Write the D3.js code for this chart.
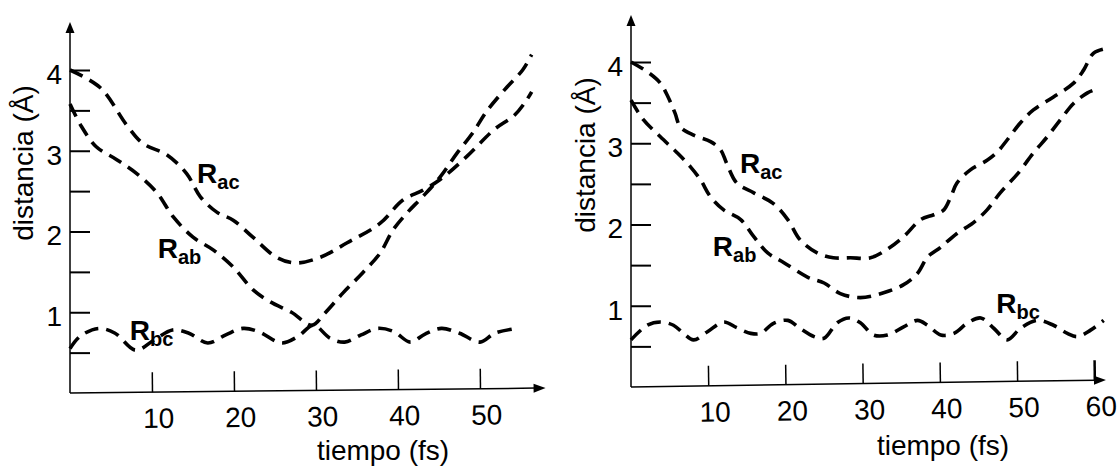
<!DOCTYPE html>
<html><head><meta charset="utf-8">
<script src="https://cdn.jsdelivr.net/npm/d3@7"></script>
<style>
html,body{margin:0;padding:0;background:#fff;}
svg{display:block;}
text{font-family:"Liberation Sans",Arial,Helvetica,sans-serif;fill:#000;}
</style></head>
<body>
<svg id="c" width="1117" height="467"></svg>
<script>
// ---------- data ----------
const xTicks1 = [10, 20, 30, 40, 50];
const xTicks2 = [10, 20, 30, 40, 50, 60];
const yTicks = [0.5, 1, 1.5, 2, 2.5, 3, 3.5, 4];
const yTickLabels = [1, 2, 3, 4];
const xAxisTitle = "tiempo (fs)";
const yAxisTitle = "distancia (Å)";

// left panel
const L_t_ac = [0, 3.7, 6.9, 8.9, 11.8, 14.2, 15.9, 17.9, 19.9, 22.3, 25.2, 27.5, 30.5, 33.8, 37.8, 40.6, 43, 45.1, 48.4, 51.7, 54.2, 55.7, 56.3];
const L_ac   = [4.0, 3.78, 3.32, 3.09, 2.95, 2.72, 2.43, 2.24, 2.14, 1.93, 1.68, 1.61, 1.68, 1.86, 2.1, 2.39, 2.51, 2.64, 2.93, 3.26, 3.44, 3.63, 3.73];
const L_t_ab = [0, 1.4, 3.2, 5.7, 8.1, 10.6, 12.6, 15, 17.5, 19.9, 22.3, 24.4, 27, 29.5, 31, 33.3, 35.7, 37.8, 39.4, 41.1, 43, 45.1, 47.2, 49.1, 50.9, 53.3, 55.2, 56.3];
const L_ab   = [3.58, 3.3, 3.05, 2.89, 2.72, 2.48, 2.18, 1.93, 1.77, 1.56, 1.28, 1.13, 1.0, 0.84, 0.98, 1.24, 1.49, 1.73, 2.02, 2.23, 2.43, 2.67, 2.97, 3.22, 3.5, 3.79, 4.0, 4.19];
const L_t_bc = [0, 1.2, 3.5, 5.5, 8, 10.3, 12.5, 14.5, 16.8, 19, 21.1, 23, 25.8, 27.8, 29.7, 31.7, 33.5, 35.5, 37.5, 39.5, 41.5, 43.3, 45.3, 47.5, 50, 51.8, 54.5];
const L_bc   = [0.55, 0.7, 0.8, 0.74, 0.53, 0.66, 0.78, 0.74, 0.62, 0.72, 0.8, 0.76, 0.62, 0.7, 0.84, 0.68, 0.63, 0.72, 0.8, 0.76, 0.63, 0.73, 0.8, 0.74, 0.63, 0.74, 0.8];

// right panel
const R_t_ac = [0, 2.1, 3.8, 4.8, 5.7, 6.4, 8.1, 10.3, 11.6, 12.4, 13.7, 15.9, 18.4, 20.3, 21.9, 24.1, 26.2, 28.4, 31, 33.1, 35.3, 37.5, 39.2, 40.5, 41.4, 42.2, 43.9, 46.1, 47.4, 48.7, 50.4, 52.1, 54.7, 57.3, 58.6, 59.9, 61.7];
const R_ac   = [4.0, 3.88, 3.74, 3.57, 3.37, 3.2, 3.1, 3.02, 2.92, 2.75, 2.51, 2.39, 2.26, 2.06, 1.81, 1.65, 1.59, 1.59, 1.59, 1.69, 1.85, 2.06, 2.12, 2.18, 2.34, 2.51, 2.67, 2.79, 2.89, 3.04, 3.25, 3.41, 3.57, 3.74, 3.9, 4.11, 4.17];
const R_t_ab = [0, 1.6, 3.8, 6, 7.7, 9, 10.3, 12, 14.2, 15.9, 17.7, 19.8, 22.9, 25, 27.1, 29.7, 32.7, 35.3, 37.1, 38.4, 40.1, 42.2, 44.3, 46.1, 47.8, 50.1, 52.1, 53.9, 55.6, 57.3, 59.1, 60.1];
const R_ab   = [3.53, 3.29, 3.08, 2.88, 2.71, 2.55, 2.34, 2.18, 2.06, 1.85, 1.65, 1.53, 1.35, 1.28, 1.15, 1.1, 1.16, 1.26, 1.4, 1.6, 1.72, 1.89, 2.02, 2.18, 2.39, 2.63, 2.88, 3.08, 3.29, 3.49, 3.62, 3.66];
const R_t_bc = [0, 2.1, 3.8, 5.5, 6.8, 8.1, 9.9, 12, 13.7, 15.5, 16.8, 18.4, 20.3, 21.9, 23.7, 25, 26.7, 28.2, 29.7, 31.4, 33.2, 35.3, 37.1, 38.4, 40.1, 41.8, 43.6, 45.3, 47, 48.7, 50.4, 52.6, 54.7, 56.5, 57.8, 59.5, 61.2];
const R_bc   = [0.58, 0.76, 0.8, 0.76, 0.66, 0.58, 0.68, 0.8, 0.73, 0.66, 0.66, 0.78, 0.82, 0.72, 0.62, 0.6, 0.79, 0.85, 0.79, 0.64, 0.64, 0.74, 0.82, 0.76, 0.64, 0.66, 0.79, 0.85, 0.72, 0.58, 0.72, 0.82, 0.76, 0.66, 0.62, 0.7, 0.82];

// label anchors in data units [t, v]
const L_labels = [["ac", 15.5, 2.6], ["ab", 10.7, 1.67], ["bc", 7.3, 0.66]];
const R_labels = [["ac", 14.1, 2.63], ["ab", 10.6, 1.61], ["bc", 47.3, 0.91]];

// ---------- drawing ----------
const svg = d3.select("#c");
const FS = 28;

function panel(cfg) {
  const x = d3.scaleLinear().domain([0, cfg.tMax]).range([cfg.x0, cfg.x1]);
  const y = d3.scaleLinear().domain([0, 4]).range([cfg.y0, cfg.y4]);
  const g = svg.append("g");

  // y axis
  const ya = d3.axisLeft(y).tickValues(yTicks).tickSize(-20).tickPadding(8)
    .tickFormat(d => yTickLabels.includes(d) ? d3.format("d")(d) : "");
  const yg = g.append("g").attr("transform", `translate(${cfg.x0},0)`).call(ya);
  yg.select(".domain").remove();
  yg.selectAll(".tick line").attr("stroke", "#000").attr("stroke-width", 2);
  yg.selectAll(".tick text").attr("font-size", FS).attr("dy", "0.48em")
    .style("font-family", '"Liberation Sans",Arial,sans-serif');
  g.append("line").attr("x1", cfg.x0).attr("x2", cfg.x0).attr("y1", cfg.y0).attr("y2", cfg.yTip + 8)
    .attr("stroke", "#000").attr("stroke-width", 1.5);
  g.append("path").attr("d", `M${cfg.x0},${cfg.yTip} L${cfg.x0 - 4.5},${cfg.yTip + 11} L${cfg.x0 + 4.5},${cfg.yTip + 11} Z`).attr("fill", "#000");

  // x axis (slightly slanted like the original)
  const xa = d3.axisBottom(x).tickValues(cfg.xTicks).tickSize(-20).tickPadding(16)
    .tickFormat(d3.format("d"));
  const xg = g.append("g").attr("transform", `rotate(${cfg.rot},${cfg.x0},${cfg.y0}) translate(0,${cfg.y0})`).call(xa);
  xg.select(".domain").remove();
  xg.selectAll(".tick line").attr("stroke", "#000").attr("stroke-width", 1.5);
  xg.selectAll(".tick text").attr("font-size", FS).attr("dx", cfg.dx)
    .style("font-family", '"Liberation Sans",Arial,sans-serif');
  if (cfg.boldLast) xg.selectAll(".tick line").filter(d => d === 60).attr("stroke-width", 2.5);
  xg.append("line").attr("x1", cfg.x0).attr("x2", cfg.x1 - 10).attr("y1", 0).attr("y2", 0)
    .attr("stroke", "#000").attr("stroke-width", 1.5);
  xg.append("path").attr("d", `M${cfg.x1},0 L${cfg.x1 - 12},-4.5 L${cfg.x1 - 12},4.5 Z`).attr("fill", "#000");

  // titles
  g.append("text").attr("x", cfg.xTitleX).attr("y", cfg.xTitleY).attr("text-anchor", "middle")
    .attr("font-size", FS).text(xAxisTitle);
  g.append("text").attr("transform", `translate(${cfg.yTitleX},${cfg.yTitleY}) rotate(-90)`)
    .attr("text-anchor", "middle").attr("font-size", FS).text(yAxisTitle);

  // curves
  const line = d3.line().x(d => x(d[0])).y(d => y(d[1])).curve(d3.curveCatmullRom.alpha(0.5));
  cfg.series.forEach(s => {
    const pts = s.t.map((t, i) => [t, s.v[i]]);
    g.append("path").datum(pts).attr("d", line).attr("fill", "none")
      .attr("stroke", "#000").attr("stroke-width", 3.6).attr("stroke-dasharray", "14,8");
  });

  // labels
  cfg.labels.forEach(([sub, t, v]) => {
    const tx = g.append("text").attr("x", x(t)).attr("y", y(v))
      .attr("font-weight", "bold").attr("font-size", FS);
    tx.append("tspan").text("R");
    tx.append("tspan").attr("font-size", 20).attr("dy", 6).text(sub);
  });
}

panel({
  tMax: 58, x0: 70, x1: 545.6, y0: 393, y4: 70, yTip: 22, rot: -0.6, dx: 6, xTicks: xTicks1,
  xTitleX: 383, xTitleY: 460, yTitleX: 33, yTitleY: 163,
  series: [{t: L_t_ac, v: L_ac}, {t: L_t_ab, v: L_ab}, {t: L_t_bc, v: L_bc}],
  labels: L_labels, boldLast: false
});
panel({
  tMax: 61.5, x0: 631, x1: 1106, y0: 387, y4: 62, yTip: 15, rot: -0.84, dx: 6, xTicks: xTicks2,
  xTitleX: 943, xTitleY: 455, yTitleX: 595, yTitleY: 155,
  series: [{t: R_t_ac, v: R_ac}, {t: R_t_ab, v: R_ab}, {t: R_t_bc, v: R_bc}],
  labels: R_labels, boldLast: true
});
</script>
</body></html>
